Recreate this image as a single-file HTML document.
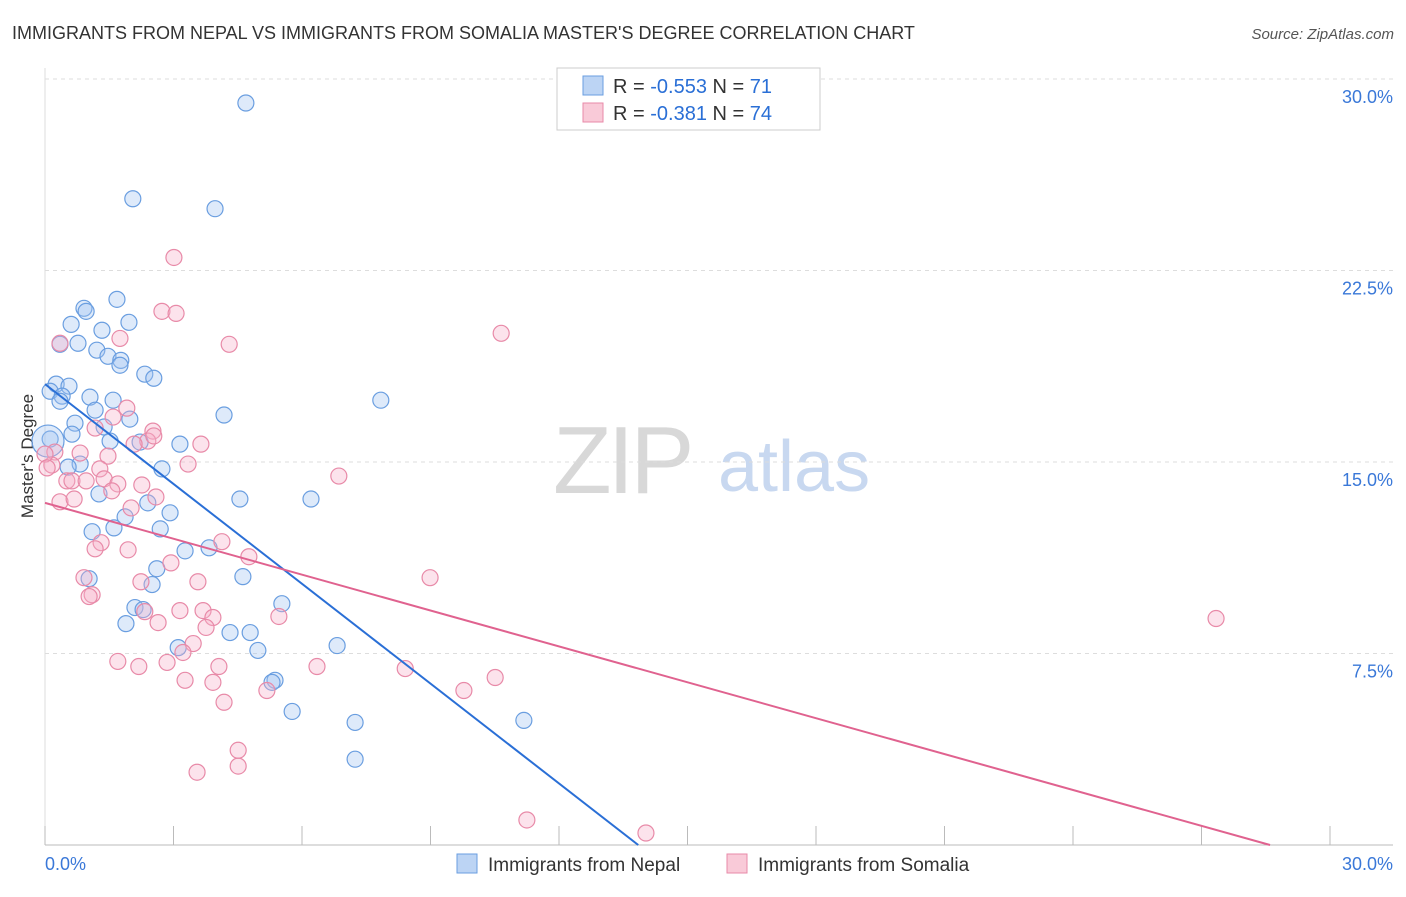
<!DOCTYPE html>
<html><head><meta charset="utf-8"><style>
body{margin:0;background:#fff;font-family:"Liberation Sans",sans-serif;}
svg text{font-family:"Liberation Sans",sans-serif;}
</style></head><body>
<svg id="chart" width="1406" height="892" xmlns="http://www.w3.org/2000/svg">
<text x="12" y="39" font-size="18" fill="#333">IMMIGRANTS FROM NEPAL VS IMMIGRANTS FROM SOMALIA MASTER'S DEGREE CORRELATION CHART</text>
<text x="1394" y="39" font-size="15" fill="#555" text-anchor="end" font-style="italic">Source: ZipAtlas.com</text>
<text x="553" y="493" font-size="96" fill="#d8d8d8" font-family="Liberation Serif" letter-spacing="-4">ZIP</text>
<text x="718" y="491" font-size="72" fill="#c8d8f0">atlas</text>
<text transform="translate(33,456) rotate(-90)" font-size="17" fill="#333" text-anchor="middle">Master's Degree</text>
<g id="grid"></g><g id="axes"></g><g id="pts"></g><g id="lines"></g>
<g>
<rect x="557" y="68" width="263" height="62" fill="#fff" stroke="#ccc"/>
<rect x="583" y="76" width="20" height="19" fill="#bcd4f4" stroke="#6a9ee0"/>
<text x="613" y="93" font-size="20" fill="#333">R = <tspan fill="#2a6fd6">-0.553</tspan>   N = <tspan fill="#2a6fd6">71</tspan></text>
<rect x="583" y="103" width="20" height="19" fill="#f9cad8" stroke="#e88aa8"/>
<text x="613" y="120" font-size="20" fill="#333">R =  <tspan fill="#2a6fd6">-0.381</tspan>   N = <tspan fill="#2a6fd6">74</tspan></text>
</g>
<g>
<rect x="457" y="854" width="20" height="19" fill="#bcd4f4" stroke="#6a9ee0"/>
<text x="488" y="871" font-size="19" fill="#333">Immigrants from Nepal</text>
<rect x="727" y="854" width="20" height="19" fill="#f9cad8" stroke="#e88aa8"/>
<text x="758" y="871" font-size="19" fill="#333">Immigrants from Somalia</text>
</g>
</svg>
<script>
const yTicks=[7.5,15,22.5,30];
const yTickLabels=["7.5%","15.0%","22.5%","30.0%"];
const xTickValues=[0,3,6,9,12,15,18,21,24,27,30];
const nepalX=[4.69,2.05,3.97,1.68,0.91,0.96,0.61,1.96,1.33,0.35,0.77,1.21,1.47,1.77,1.75,2.33,2.54,0.26,0.56,0.12,0.40,1.05,1.59,0.35,7.84,1.17,4.18,0.70,1.98,1.38,0.63,0.12,1.52,2.22,3.15,0.82,0.54,2.73,1.26,4.55,6.21,2.40,1.87,2.92,1.10,1.61,2.69,3.27,3.83,2.61,1.03,4.62,2.50,5.53,2.10,2.29,1.89,4.32,4.79,3.11,4.97,6.82,5.37,5.30,5.77,7.24,11.18,7.24,0.07];
const nepalY=[29.06,25.31,24.92,21.37,21.02,20.90,20.39,20.47,20.16,19.61,19.65,19.38,19.14,18.98,18.79,18.44,18.28,18.05,17.97,17.77,17.58,17.54,17.42,17.38,17.42,17.03,16.84,16.52,16.68,16.37,16.09,15.90,15.82,15.78,15.70,14.92,14.80,14.73,13.75,13.55,13.55,13.40,12.85,13.01,12.27,12.42,12.38,11.52,11.64,10.82,10.43,10.51,10.20,9.45,9.30,9.22,8.67,8.32,8.32,7.73,7.62,7.81,6.45,6.37,5.23,4.80,4.88,3.36,15.82];
const somaliaX=[3.01,2.73,3.06,10.65,4.30,1.75,0.35,1.91,1.59,2.52,1.17,2.40,2.54,3.64,2.08,0.23,0.82,1.47,0.16,1.28,3.34,6.86,0.51,0.63,0.96,1.38,1.70,1.56,2.26,2.59,0.35,0.68,2.01,4.13,1.31,1.17,1.94,4.76,2.94,0.91,2.24,3.57,8.99,1.10,1.03,2.33,3.15,3.69,3.92,2.64,3.76,5.46,3.46,3.22,1.70,2.85,2.19,4.06,6.35,8.41,3.27,3.92,10.51,9.78,5.18,4.18,4.51,4.51,3.55,11.25,14.03,27.34,0.00,0.05];
const somaliaY=[23.01,20.90,20.82,20.04,19.61,19.84,19.65,17.11,16.76,16.21,16.33,15.82,16.02,15.70,15.70,15.39,15.35,15.23,14.88,14.73,14.92,14.45,14.26,14.26,14.26,14.34,14.14,13.87,14.10,13.63,13.44,13.55,13.20,11.88,11.84,11.60,11.56,11.29,11.05,10.47,10.31,10.31,10.47,9.80,9.73,9.14,9.18,9.18,8.91,8.71,8.52,8.95,7.89,7.54,7.19,7.15,6.99,6.99,6.99,6.91,6.45,6.37,6.56,6.05,6.05,5.59,3.71,3.09,2.85,0.98,0.47,8.87,15.31,14.77];
const nepalTrend=[18.05,-0.553];
const nepalTrendEnd=[0,13.85];
const somaliaTrendStart=[0,13.4];
const somaliaTrendEnd=[28.6,0];
const NS="http://www.w3.org/2000/svg";
const X0=45,X1=1330,Y0=845,Y30=79;
function sx(v){return X0+(X1-X0)*v/30;}
function sy(v){return Y0-(Y0-Y30)*v/30;}
function mk(tag,attrs,parent){const e=document.createElementNS(NS,tag);for(const k in attrs)e.setAttribute(k,attrs[k]);parent.appendChild(e);return e;}
const grid=document.getElementById('grid'),axes=document.getElementById('axes'),pts=document.getElementById('pts'),lines=document.getElementById('lines');
yTicks.forEach((t,i)=>{
 const l=mk('line',{x1:X0,x2:1393,y1:sy(t),y2:sy(t),stroke:'#ddd','stroke-dasharray':'4,4'},grid);
 
 
 const tx=mk('text',{x:1393,y:sy(t)+24,'font-size':18,fill:'#3a78d8','text-anchor':'end'},axes);
 tx.textContent=yTickLabels[i];
 
 
});
const ax=mk('line',{x1:X0,x2:1393,y1:Y0,y2:Y0,stroke:'#bbb'},axes);


const ay=mk('line',{x1:X0,x2:X0,y1:68,y2:Y0,stroke:'#ddd'},axes);


xTickValues.forEach(t=>{
 const k=mk('line',{x1:sx(t),x2:sx(t),y1:826,y2:Y0,stroke:'#bbb'},axes);
 
 
});
const xl0=mk('text',{x:45,y:870,'font-size':18,fill:'#3a78d8'},axes);xl0.textContent='0.0%';


const xl1=mk('text',{x:1393,y:870,'font-size':18,fill:'#3a78d8','text-anchor':'end'},axes);xl1.textContent='30.0%';


nepalX.forEach((v,i)=>{
 const c=mk('circle',{cx:sx(v),cy:sy(nepalY[i]),r:i===nepalX.length-1?16:8,fill:'rgba(160,195,240,0.35)',stroke:'#6a9ee0','stroke-width':1.2},pts);
 
 
});
somaliaX.forEach((v,i)=>{
 const c=mk('circle',{cx:sx(v),cy:sy(somaliaY[i]),r:8,fill:'rgba(245,175,200,0.35)',stroke:'#e88aa8','stroke-width':1.2},pts);
 
 
});
const bl=mk('line',{x1:sx(0),y1:sy(nepalTrend[0]),x2:sx(nepalTrendEnd[1]),y2:sy(nepalTrendEnd[0]),stroke:'#2a6fd6','stroke-width':2},lines);


const pl=mk('line',{x1:sx(somaliaTrendStart[0]),y1:sy(somaliaTrendStart[1]),x2:sx(somaliaTrendEnd[0]),y2:sy(somaliaTrendEnd[1]),stroke:'#e0628f','stroke-width':2},lines);


</script>
</body></html>
